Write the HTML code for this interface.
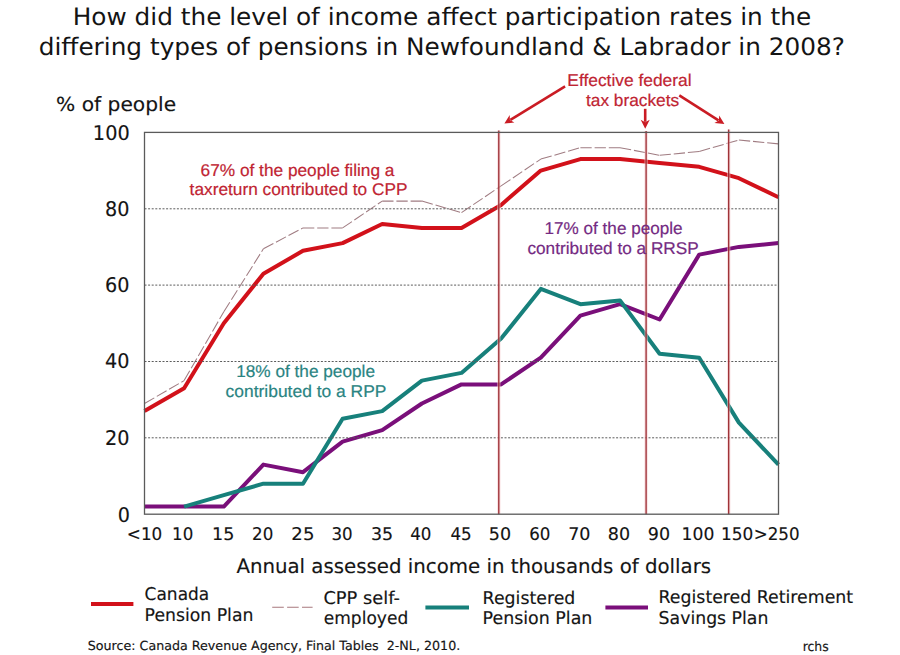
<!DOCTYPE html>
<html><head><meta charset="utf-8"><title>Pension participation chart</title>
<style>html,body{margin:0;padding:0;background:#fff;}body{width:900px;height:655px;overflow:hidden;}svg{display:block;}</style>
</head><body>
<svg width="900" height="655" viewBox="0 0 900 655" style="text-rendering:geometricPrecision">
<rect width="900" height="655" fill="#fff"/>
<line x1="144.5" y1="403.5" x2="184.1" y2="380.6" stroke="#a07c82" stroke-width="1.05" stroke-dasharray="11.3 2.9"/>
<line x1="184.1" y1="380.6" x2="223.8" y2="311.8" stroke="#a07c82" stroke-width="1.05" stroke-dasharray="11.3 2.9"/>
<line x1="223.8" y1="311.8" x2="263.4" y2="248.8" stroke="#a07c82" stroke-width="1.05" stroke-dasharray="11.3 2.9"/>
<line x1="263.4" y1="248.8" x2="303.0" y2="227.9" stroke="#a07c82" stroke-width="1.05" stroke-dasharray="11.3 2.9"/>
<line x1="303.0" y1="227.9" x2="342.6" y2="227.9" stroke="#a07c82" stroke-width="1.05" stroke-dasharray="11.3 2.9"/>
<line x1="342.6" y1="227.9" x2="382.2" y2="201.1" stroke="#a07c82" stroke-width="1.05" stroke-dasharray="11.3 2.9"/>
<line x1="382.2" y1="201.1" x2="421.9" y2="201.1" stroke="#a07c82" stroke-width="1.05" stroke-dasharray="11.3 2.9"/>
<line x1="421.9" y1="201.1" x2="461.5" y2="212.6" stroke="#a07c82" stroke-width="1.05" stroke-dasharray="11.3 2.9"/>
<line x1="461.5" y1="212.6" x2="501.1" y2="185.9" stroke="#a07c82" stroke-width="1.05" stroke-dasharray="11.3 2.9"/>
<line x1="501.1" y1="185.9" x2="540.8" y2="159.1" stroke="#a07c82" stroke-width="1.05" stroke-dasharray="11.3 2.9"/>
<line x1="540.8" y1="159.1" x2="580.4" y2="147.7" stroke="#a07c82" stroke-width="1.05" stroke-dasharray="11.3 2.9"/>
<line x1="580.4" y1="147.7" x2="620.0" y2="147.7" stroke="#a07c82" stroke-width="1.05" stroke-dasharray="11.3 2.9"/>
<line x1="620.0" y1="147.7" x2="659.6" y2="155.3" stroke="#a07c82" stroke-width="1.05" stroke-dasharray="11.3 2.9"/>
<line x1="659.6" y1="155.3" x2="699.2" y2="151.5" stroke="#a07c82" stroke-width="1.05" stroke-dasharray="11.3 2.9"/>
<line x1="699.2" y1="151.5" x2="738.9" y2="140.0" stroke="#a07c82" stroke-width="1.05" stroke-dasharray="11.3 2.9"/>
<line x1="738.9" y1="140.0" x2="778.5" y2="143.9" stroke="#a07c82" stroke-width="1.05" stroke-dasharray="11.3 2.9"/>
<polyline points="144.5,411.1 184.1,388.2 223.8,323.3 263.4,273.7 303.0,250.8 342.6,243.1 382.2,224.0 421.9,227.9 461.5,227.9 501.1,204.9 540.8,170.6 580.4,159.1 620.0,159.1 659.6,162.9 699.2,166.8 738.9,178.2 778.5,197.3" fill="none" stroke="#d2111a" stroke-width="4" stroke-linejoin="round"/>
<polyline points="144.5,506.6 184.1,506.6 223.8,506.6 263.4,464.6 303.0,472.2 342.6,441.7 382.2,430.2 421.9,403.5 461.5,384.4 501.1,384.4 540.8,357.7 580.4,315.7 620.0,304.2 659.6,319.5 699.2,254.6 738.9,246.9 778.5,243.1" fill="none" stroke="#7a0f7a" stroke-width="4" stroke-linejoin="round"/>
<polyline points="184.1,506.6 223.8,495.1 263.4,483.7 303.0,483.7 342.6,418.8 382.2,411.1 421.9,380.6 461.5,372.9 501.1,338.6 540.8,288.9 580.4,304.2 620.0,300.4 659.6,353.8 699.2,357.7 738.9,422.6 778.5,464.6" fill="none" stroke="#17807b" stroke-width="4" stroke-linejoin="round"/>
<line x1="144.5" x2="778.5" y1="208.8" y2="208.8" stroke="#5c5c5c" stroke-width="1" stroke-dasharray="2 1.6"/>
<line x1="144.5" x2="778.5" y1="285.1" y2="285.1" stroke="#5c5c5c" stroke-width="1" stroke-dasharray="2 1.6"/>
<line x1="144.5" x2="778.5" y1="361.5" y2="361.5" stroke="#5c5c5c" stroke-width="1" stroke-dasharray="2 1.6"/>
<line x1="144.5" x2="778.5" y1="437.8" y2="437.8" stroke="#5c5c5c" stroke-width="1" stroke-dasharray="2 1.6"/>
<line x1="498.8" x2="498.8" y1="130.6" y2="514.2" stroke="#f2c4c8" stroke-width="3.4" stroke-opacity="0.55"/>
<line x1="498.8" x2="498.8" y1="130.6" y2="514.2" stroke="#9c2a30" stroke-width="1.3"/>
<line x1="646.1" x2="646.1" y1="131" y2="514.2" stroke="#f2c4c8" stroke-width="3.4" stroke-opacity="0.55"/>
<line x1="646.1" x2="646.1" y1="131" y2="514.2" stroke="#9c2a30" stroke-width="1.3"/>
<line x1="728.7" x2="728.7" y1="129.6" y2="514.2" stroke="#f2c4c8" stroke-width="3.4" stroke-opacity="0.55"/>
<line x1="728.7" x2="728.7" y1="129.6" y2="514.2" stroke="#9c2a30" stroke-width="1.3"/>
<rect x="144.5" y="132.4" width="634.0" height="381.8" fill="none" stroke="#5a5a5a" stroke-width="1.3"/>
<line x1="565.1" y1="86.4" x2="510.4" y2="119.8" stroke="#ca1c24" stroke-width="2.6"/>
<polygon points="504.4,123.5 509.7,115.0 509.9,120.1 514.4,122.6" fill="#ca1c24"/>
<line x1="645.2" y1="108.8" x2="645.2" y2="121.8" stroke="#ca1c24" stroke-width="2.6"/>
<polygon points="645.2,128.8 640.7,119.8 645.2,122.3 649.7,119.8" fill="#ca1c24"/>
<line x1="679.3" y1="95.3" x2="718.5" y2="120.3" stroke="#ca1c24" stroke-width="2.6"/>
<polygon points="724.4,124.1 714.4,123.0 718.9,120.6 719.2,115.5" fill="#ca1c24"/>
<line x1="91" x2="133.4" y1="604" y2="604" stroke="#d2111a" stroke-width="4"/>
<line x1="272.2" x2="312.6" y1="607.2" y2="607.2" stroke="#a8787e" stroke-width="1.1" stroke-dasharray="11.6 3.3"/>
<line x1="425.4" x2="469" y1="607.4" y2="607.4" stroke="#17807b" stroke-width="4"/>
<line x1="605.4" x2="648" y1="607.4" y2="607.4" stroke="#7a0f7a" stroke-width="4"/>
<text id="t1" transform="matrix(1.0313 0 0 1 -4.51 0)" x="74.9" y="25.4" font-family="'DejaVu Sans', 'Liberation Sans', sans-serif" font-size="24" fill="#141414" xml:space="preserve">How did the level of income affect participation rates in the</text>
<text id="t2" transform="matrix(1.0311 0 0 1 -2.37 0)" x="39.9" y="55.1" font-family="'DejaVu Sans', 'Liberation Sans', sans-serif" font-size="24" fill="#141414" xml:space="preserve">differing types of pensions in Newfoundland &amp; Labrador in 2008?</text>
<text id="yl" transform="matrix(1.0322 0 0 1 -2.33 0)" x="56.5" y="110.5" font-family="'DejaVu Sans', 'Liberation Sans', sans-serif" font-size="19.6" fill="#141414" stroke="#141414" stroke-width="0.15" xml:space="preserve">% of people</text>
<text id="xt" transform="matrix(0.9989 0 0 1 -0.05 0)" x="236.7" y="572.8" font-family="'DejaVu Sans', 'Liberation Sans', sans-serif" font-size="19.8" fill="#141414" stroke="#141414" stroke-width="0.15" xml:space="preserve">Annual assessed income in thousands of dollars</text>
<text id="a1" transform="matrix(1.0152 0 0 1 -3.25 0)" x="200.8" y="175.5" font-family="'Liberation Sans', Arial, sans-serif" font-size="17" fill="#c02432" stroke="#c02432" stroke-width="0.2" xml:space="preserve">67% of the people filing a</text>
<text id="a2" transform="matrix(1.0159 0 0 1 -2.70 0)" x="189.3" y="195.2" font-family="'Liberation Sans', Arial, sans-serif" font-size="17" fill="#c02432" stroke="#c02432" stroke-width="0.2" xml:space="preserve">taxreturn contributed to CPP</text>
<text id="b1" transform="matrix(1.0066 0 0 1 -4.31 0)" x="545.3" y="233.5" font-family="'Liberation Sans', Arial, sans-serif" font-size="17" fill="#742a82" stroke="#742a82" stroke-width="0.2" xml:space="preserve">17% of the people</text>
<text id="b2" transform="matrix(1.0131 0 0 1 -7.73 0)" x="528.2" y="253.5" font-family="'Liberation Sans', Arial, sans-serif" font-size="17" fill="#742a82" stroke="#742a82" stroke-width="0.2" xml:space="preserve">contributed to a RRSP</text>
<text id="c1" transform="matrix(1.0126 0 0 1 -4.41 0)" x="237.6" y="377.1" font-family="'Liberation Sans', Arial, sans-serif" font-size="17" fill="#2a8482" stroke="#2a8482" stroke-width="0.2" xml:space="preserve">18% of the people</text>
<text id="c2" transform="matrix(1.0252 0 0 1 -6.41 0)" x="226.3" y="396.6" font-family="'Liberation Sans', Arial, sans-serif" font-size="17" fill="#2a8482" stroke="#2a8482" stroke-width="0.2" xml:space="preserve">contributed to a RPP</text>
<text id="e1" transform="matrix(1.0210 0 0 1 -13.27 0)" x="568.7" y="86.0" font-family="'Liberation Sans', Arial, sans-serif" font-size="17" fill="#c02432" stroke="#c02432" stroke-width="0.2" xml:space="preserve">Effective federal</text>
<text id="e2" transform="matrix(1.0165 0 0 1 -9.66 0)" x="586.0" y="105.8" font-family="'Liberation Sans', Arial, sans-serif" font-size="17" fill="#c02432" stroke="#c02432" stroke-width="0.2" xml:space="preserve">tax brackets</text>
<text id="l1" transform="matrix(0.9646 0 0 1 4.47 0)" x="145.3" y="599.9" font-family="'DejaVu Sans', 'Liberation Sans', sans-serif" font-size="17.6" fill="#141414" stroke="#141414" stroke-width="0.15" xml:space="preserve">Canada</text>
<text id="l2" transform="matrix(0.9807 0 0 1 1.63 0)" x="145.8" y="620.6" font-family="'DejaVu Sans', 'Liberation Sans', sans-serif" font-size="17.6" fill="#141414" stroke="#141414" stroke-width="0.15" xml:space="preserve">Pension Plan</text>
<text id="l3" transform="matrix(1.0122 0 0 1 -4.75 0)" x="324.2" y="603.9" font-family="'DejaVu Sans', 'Liberation Sans', sans-serif" font-size="17.6" fill="#141414" stroke="#141414" stroke-width="0.15" xml:space="preserve">CPP self-</text>
<text id="l4" transform="matrix(0.9682 0 0 1 9.72 0)" x="324.4" y="624.0" font-family="'DejaVu Sans', 'Liberation Sans', sans-serif" font-size="17.6" fill="#141414" stroke="#141414" stroke-width="0.15" xml:space="preserve">employed</text>
<text id="l5" transform="matrix(0.9857 0 0 1 5.24 0)" x="484.3" y="603.6" font-family="'DejaVu Sans', 'Liberation Sans', sans-serif" font-size="17.6" fill="#141414" stroke="#141414" stroke-width="0.15" xml:space="preserve">Registered</text>
<text id="l6" transform="matrix(0.9889 0 0 1 3.70 0)" x="484.3" y="624.2" font-family="'DejaVu Sans', 'Liberation Sans', sans-serif" font-size="17.6" fill="#141414" stroke="#141414" stroke-width="0.15" xml:space="preserve">Pension Plan</text>
<text id="l7" transform="matrix(0.9857 0 0 1 8.24 0)" x="659.8" y="602.7" font-family="'DejaVu Sans', 'Liberation Sans', sans-serif" font-size="17.6" fill="#141414" stroke="#141414" stroke-width="0.15" xml:space="preserve">Registered Retirement</text>
<text id="l8" transform="matrix(0.9818 0 0 1 10.82 0)" x="659.8" y="623.8" font-family="'DejaVu Sans', 'Liberation Sans', sans-serif" font-size="17.6" fill="#141414" stroke="#141414" stroke-width="0.15" xml:space="preserve">Savings Plan</text>
<text id="src" transform="matrix(1.0060 0 0 1 -1.13 0)" x="88.4" y="649.6" font-family="'DejaVu Sans', 'Liberation Sans', sans-serif" font-size="12.6" fill="#141414" stroke="#141414" stroke-width="0.15" xml:space="preserve">Source: Canada Revenue Agency, Final Tables  2-NL, 2010.</text>
<text id="rc" transform="matrix(0.9500 0 0 1 39.50 0)" x="803.3" y="651.0" font-family="'DejaVu Sans', 'Liberation Sans', sans-serif" font-size="13.1" fill="#141414" stroke="#141414" stroke-width="0.15" xml:space="preserve">rchs</text>
<text id="x0" transform="matrix(0.9600 0 0 1 3.60 0)" x="128.4" y="539.9" font-family="'DejaVu Sans', 'Liberation Sans', sans-serif" font-size="17.5" fill="#141414" stroke="#141414" stroke-width="0.15" xml:space="preserve">&lt;10</text>
<text id="x1" transform="matrix(0.9500 0 0 1 6.80 0)" x="174.0" y="539.9" font-family="'DejaVu Sans', 'Liberation Sans', sans-serif" font-size="17.5" fill="#141414" stroke="#141414" stroke-width="0.15" xml:space="preserve">10</text>
<text id="x2" transform="matrix(1.0000 0 0 1 -2.00 0)" x="214.0" y="539.9" font-family="'DejaVu Sans', 'Liberation Sans', sans-serif" font-size="17.5" fill="#141414" stroke="#141414" stroke-width="0.15" xml:space="preserve">15</text>
<text id="x3" transform="matrix(0.9524 0 0 1 11.10 0)" x="253.0" y="539.9" font-family="'DejaVu Sans', 'Liberation Sans', sans-serif" font-size="17.5" fill="#141414" stroke="#141414" stroke-width="0.15" xml:space="preserve">20</text>
<text id="x4" transform="matrix(1.0350 0 0 1 -11.05 0)" x="292.2" y="539.9" font-family="'DejaVu Sans', 'Liberation Sans', sans-serif" font-size="17.5" fill="#141414" stroke="#141414" stroke-width="0.15" xml:space="preserve">25</text>
<text id="x5" transform="matrix(0.9524 0 0 1 15.06 0)" x="332.2" y="539.9" font-family="'DejaVu Sans', 'Liberation Sans', sans-serif" font-size="17.5" fill="#141414" stroke="#141414" stroke-width="0.15" xml:space="preserve">30</text>
<text id="x6" transform="matrix(0.9950 0 0 1 0.87 0)" x="372.0" y="539.9" font-family="'DejaVu Sans', 'Liberation Sans', sans-serif" font-size="17.5" fill="#141414" stroke="#141414" stroke-width="0.15" xml:space="preserve">35</text>
<text id="x7" transform="matrix(0.9524 0 0 1 18.72 0)" x="411.1" y="539.9" font-family="'DejaVu Sans', 'Liberation Sans', sans-serif" font-size="17.5" fill="#141414" stroke="#141414" stroke-width="0.15" xml:space="preserve">40</text>
<text id="x8" transform="matrix(0.9524 0 0 1 21.18 0)" x="450.7" y="539.9" font-family="'DejaVu Sans', 'Liberation Sans', sans-serif" font-size="17.5" fill="#141414" stroke="#141414" stroke-width="0.15" xml:space="preserve">45</text>
<text id="x9" transform="matrix(1.0000 0 0 1 -1.60 0)" x="490.4" y="539.9" font-family="'DejaVu Sans', 'Liberation Sans', sans-serif" font-size="17.5" fill="#141414" stroke="#141414" stroke-width="0.15" xml:space="preserve">50</text>
<text id="x10" transform="matrix(0.9524 0 0 1 24.84 0)" x="529.6" y="539.9" font-family="'DejaVu Sans', 'Liberation Sans', sans-serif" font-size="17.5" fill="#141414" stroke="#141414" stroke-width="0.15" xml:space="preserve">60</text>
<text id="x11" transform="matrix(1.0000 0 0 1 -1.40 0)" x="569.6" y="539.9" font-family="'DejaVu Sans', 'Liberation Sans', sans-serif" font-size="17.5" fill="#141414" stroke="#141414" stroke-width="0.15" xml:space="preserve">70</text>
<text id="x12" transform="matrix(1.0000 0 0 1 -1.10 0)" x="608.9" y="539.9" font-family="'DejaVu Sans', 'Liberation Sans', sans-serif" font-size="17.5" fill="#141414" stroke="#141414" stroke-width="0.15" xml:space="preserve">80</text>
<text id="x13" transform="matrix(1.0000 0 0 1 -1.10 0)" x="648.9" y="539.9" font-family="'DejaVu Sans', 'Liberation Sans', sans-serif" font-size="17.5" fill="#141414" stroke="#141414" stroke-width="0.15" xml:space="preserve">90</text>
<text id="x14" transform="matrix(0.9806 0 0 1 11.56 0)" x="683.3" y="539.9" font-family="'DejaVu Sans', 'Liberation Sans', sans-serif" font-size="17.5" fill="#141414" stroke="#141414" stroke-width="0.15" xml:space="preserve">100</text>
<text id="x15" transform="matrix(0.9677 0 0 1 21.85 0)" x="722.5" y="539.9" font-family="'DejaVu Sans', 'Liberation Sans', sans-serif" font-size="17.5" fill="#141414" stroke="#141414" stroke-width="0.15" xml:space="preserve">150</text>
<text id="x16" transform="matrix(0.9543 0 0 1 32.86 0)" x="755.3" y="539.9" font-family="'DejaVu Sans', 'Liberation Sans', sans-serif" font-size="17.5" fill="#141414" stroke="#141414" stroke-width="0.15" xml:space="preserve">&gt;250</text>
<text id="y100" transform="matrix(0.9500 0 0 1 3.20 0)" x="94.4" y="139.9" font-family="'DejaVu Sans', 'Liberation Sans', sans-serif" font-size="20.3" fill="#141414" stroke="#141414" stroke-width="0.15" xml:space="preserve">100</text>
<text id="y80" transform="matrix(0.9458 0 0 1 4.80 0)" x="106.0" y="215.61" font-family="'DejaVu Sans', 'Liberation Sans', sans-serif" font-size="20.3" fill="#141414" stroke="#141414" stroke-width="0.15" xml:space="preserve">80</text>
<text id="y60" transform="matrix(0.9458 0 0 1 4.80 0)" x="106.0" y="291.82" font-family="'DejaVu Sans', 'Liberation Sans', sans-serif" font-size="20.3" fill="#141414" stroke="#141414" stroke-width="0.15" xml:space="preserve">60</text>
<text id="y40" transform="matrix(0.9458 0 0 1 4.80 0)" x="106.0" y="368.28" font-family="'DejaVu Sans', 'Liberation Sans', sans-serif" font-size="20.3" fill="#141414" stroke="#141414" stroke-width="0.15" xml:space="preserve">40</text>
<text id="y20" transform="matrix(0.9458 0 0 1 4.80 0)" x="106.0" y="444.74" font-family="'DejaVu Sans', 'Liberation Sans', sans-serif" font-size="20.3" fill="#141414" stroke="#141414" stroke-width="0.15" xml:space="preserve">20</text>
<text id="y0" transform="matrix(0.9455 0 0 1 5.35 0)" x="118.8" y="521.5" font-family="'DejaVu Sans', 'Liberation Sans', sans-serif" font-size="20.3" fill="#141414" stroke="#141414" stroke-width="0.15" xml:space="preserve">0</text>
</svg>
</body></html>
